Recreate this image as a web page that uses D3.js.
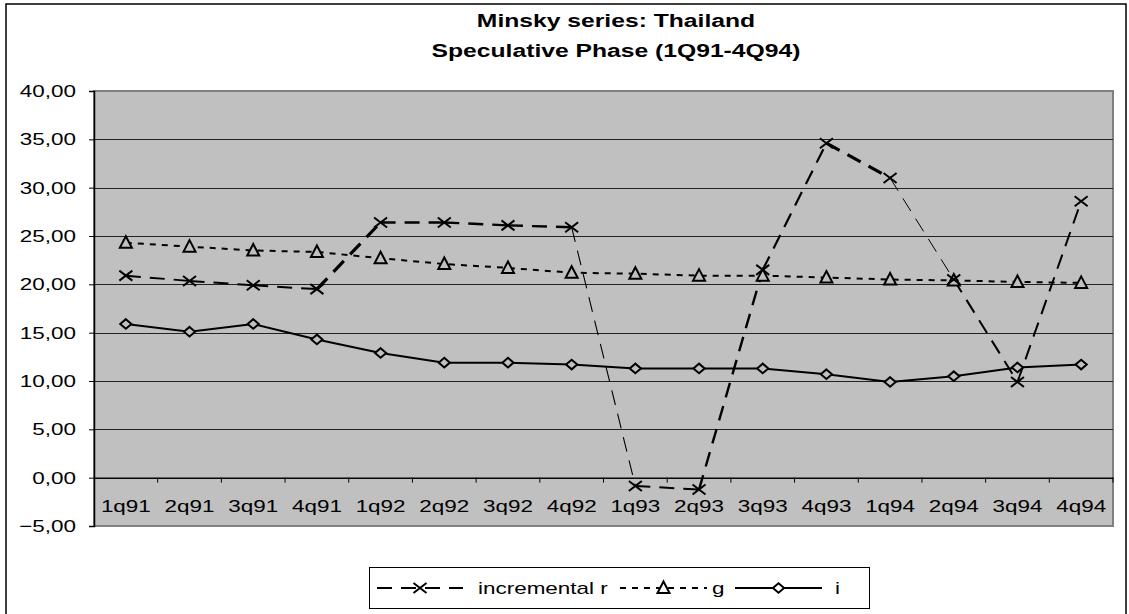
<!DOCTYPE html>
<html>
<head>
<meta charset="utf-8">
<script src="https://cdn.jsdelivr.net/npm/d3@7"></script>
<style>
  body { margin: 0; background: #fff; }
  svg text { font-family: "Liberation Sans", Arial, sans-serif; fill: #000; }
</style>
</head>
<body>
<svg id="chart" width="1129" height="614"></svg>
<script>
var categories = ['1q91', '2q91', '3q91', '4q91', '1q92', '2q92', '3q92', '4q92',
                  '1q93', '2q93', '3q93', '4q93', '1q94', '2q94', '3q94', '4q94'];
var incrementalR = [20.9, 20.35, 19.9, 19.5, 26.4, 26.4, 26.1, 25.9,
                    -0.86, -1.23, 21.5, 34.6, 31.0, 20.5, 9.9, 28.6];
var gValues = [24.3, 23.9, 23.5, 23.35, 22.7, 22.1, 21.7, 21.2,
               21.1, 20.9, 20.9, 20.7, 20.5, 20.4, 20.25, 20.15];
var iValues = [15.9, 15.1, 15.9, 14.3, 12.9, 11.9, 11.9, 11.7,
               11.3, 11.3, 11.3, 10.7, 9.9, 10.5, 11.4, 11.7];
var yTicks = [-5, 0, 5, 10, 15, 20, 25, 30, 35, 40];
var titleLines = ['Minsky series: Thailand', 'Speculative Phase (1Q91-4Q94)'];
var legendLabels = ['incremental r', 'g', 'i'];

// the reference is stretched sideways, so text gets widened too
var SX = 1.32;
// segment widths of the r line vary in the reference
var rSegWidths = [2, 2, 2, 3.2, 2.4, 2.4, 2.4, 1.1, 2, 2.4, 2.2, 3.2, 1, 2, 2];

var svg = d3.select('#chart');
var plot = {left: 94, right: 1113, top: 91, bottom: 526};

function stretch(sel) {
  sel.each(function() {
    var len = this.getComputedTextLength();
    d3.select(this)
        .attr('textLength', len * SX)
        .attr('lengthAdjust', 'spacingAndGlyphs');
  });
}

var xMarker = 'M-6.5,-5L6.5,5M-6.5,5L6.5,-5';
var triMarker = 'M0,-6.5L6,5L-6,5Z';
var diaMarker = 'M0,-4.8L5.6,0L0,4.8L-5.6,0Z';

// outer chart frame
svg.append('rect')
    .attr('x', 6).attr('y', 4)
    .attr('width', 1120).attr('height', 640)
    .attr('fill', '#fff')
    .attr('stroke', '#000')
    .attr('stroke-width', 1.5);

var x = d3.scaleBand().domain(categories).range([plot.left, plot.right]);
var y = d3.scaleLinear().domain([-5, 40]).range([plot.bottom, plot.top]);
function cx(d, i) { return x(categories[i]) + x.bandwidth() / 2; }

// plot area
svg.append('rect')
    .attr('x', plot.left).attr('y', plot.top)
    .attr('width', plot.right - plot.left)
    .attr('height', plot.bottom - plot.top)
    .attr('fill', '#c0c0c0')
    .attr('stroke', '#808080')
    .attr('stroke-width', 2);

// gridlines
svg.append('g').selectAll('line')
    .data(yTicks.filter(function(t) { return t > -5 && t < 40; }))
  .enter().append('line')
    .attr('x1', plot.left).attr('x2', plot.right)
    .attr('y1', function(d) { return Math.round(y(d)) + 0.5; })
    .attr('y2', function(d) { return Math.round(y(d)) + 0.5; })
    .attr('stroke', '#222')
    .attr('stroke-width', 1);

// y axis
var yAxis = svg.append('g')
    .attr('transform', 'translate(' + plot.left + ',0)')
    .call(d3.axisLeft(y)
        .tickValues(yTicks)
        .tickSize(5)
        .tickPadding(13)
        .tickFormat(function(d) { return d3.format('.2f')(d).replace('.', ','); }));
yAxis.select('.domain').attr('stroke', '#000').attr('stroke-width', 1.5);
yAxis.selectAll('.tick line').attr('stroke', '#000');
yAxis.selectAll('.tick text')
    .style('font-size', '17px')
    .style('font-family', '"Liberation Sans", Arial, sans-serif')
    .call(stretch);

// x axis sits on zero
var xAxis = svg.append('g')
    .attr('transform', 'translate(0,' + y(0) + ')')
    .call(d3.axisBottom(x).tickSize(0).tickPadding(22));
xAxis.select('.domain').attr('stroke', '#000').attr('stroke-width', 1.2);
xAxis.selectAll('.tick text')
    .style('font-size', '17px')
    .style('font-family', '"Liberation Sans", Arial, sans-serif')
    .call(stretch);
xAxis.selectAll('line.sep')
    .data(categories.slice(1).concat(['end']))
  .enter().append('line')
    .attr('class', 'sep')
    .attr('x1', function(d) { return d == 'end' ? plot.right : x(d); })
    .attr('x2', function(d) { return d == 'end' ? plot.right : x(d); })
    .attr('y1', 0).attr('y2', 5)
    .attr('stroke', '#000');

// series lines
var line = d3.line().x(cx).y(function(d) { return y(d); });

svg.append('path')
    .datum(iValues)
    .attr('d', line)
    .attr('fill', 'none')
    .attr('stroke', '#000')
    .attr('stroke-width', 2);

svg.append('path')
    .datum(gValues)
    .attr('d', line)
    .attr('fill', 'none')
    .attr('stroke', '#000')
    .attr('stroke-width', 2)
    .attr('stroke-dasharray', '6,6');

var rSegs = d3.pairs(incrementalR.map(function(d, i) { return [cx(d, i), y(d)]; }));
svg.append('g').selectAll('line')
    .data(rSegs)
  .enter().append('line')
    .attr('x1', function(d) { return d[0][0]; })
    .attr('y1', function(d) { return d[0][1]; })
    .attr('x2', function(d) { return d[1][0]; })
    .attr('y2', function(d) { return d[1][1]; })
    .attr('stroke', '#000')
    .attr('stroke-width', function(d, i) { return rSegWidths[i]; })
    .attr('stroke-dasharray', '15,9');

// markers
function markers(data, shape) {
  svg.append('g').selectAll('path')
      .data(data)
    .enter().append('path')
      .attr('transform', function(d, i) { return 'translate(' + cx(d, i) + ',' + y(d) + ')'; })
      .attr('d', shape)
      .attr('fill', shape == xMarker ? 'none' : '#c0c0c0')
      .attr('stroke', '#000')
      .attr('stroke-width', 2);
}
markers(iValues, diaMarker);
markers(gValues, triMarker);
markers(incrementalR, xMarker);

// title
svg.append('g').selectAll('text')
    .data(titleLines)
  .enter().append('text')
    .attr('x', 616)
    .attr('y', function(d, i) { return 27 + i * 30; })
    .attr('text-anchor', 'middle')
    .style('font-size', '18.7px')
    .style('font-weight', 'bold')
    .text(function(d) { return d; })
    .call(stretch);

// legend
var legend = svg.append('g');
legend.append('rect')
    .attr('x', 369.5).attr('y', 567.5)
    .attr('width', 500).attr('height', 41)
    .attr('fill', '#fff')
    .attr('stroke', '#000')
    .attr('stroke-width', 1);

var ly = 588;
var legendItems = [
  {x1: 377, x2: 463, dash: '15,9', shape: xMarker, tx: 478, w: 2},
  {x1: 620, x2: 707, dash: '6,6', shape: triMarker, tx: 712, w: 2},
  {x1: 735, x2: 822, dash: null, shape: diaMarker, tx: 835, w: 2}
];
legendItems.forEach(function(it, i) {
  legend.append('line')
      .attr('x1', it.x1).attr('x2', it.x2)
      .attr('y1', ly).attr('y2', ly)
      .attr('stroke', '#000')
      .attr('stroke-width', it.w)
      .attr('stroke-dasharray', it.dash);
  legend.append('path')
      .attr('transform', 'translate(' + (it.x1 + it.x2) / 2 + ',' + ly + ')')
      .attr('d', it.shape)
      .attr('fill', it.shape == xMarker ? 'none' : '#fff')
      .attr('stroke', '#000')
      .attr('stroke-width', 2);
  legend.append('text')
      .attr('x', it.tx)
      .attr('y', 594)
      .style('font-size', '17px')
      .text(legendLabels[i])
      .call(stretch);
});
</script>
</body>
</html>
